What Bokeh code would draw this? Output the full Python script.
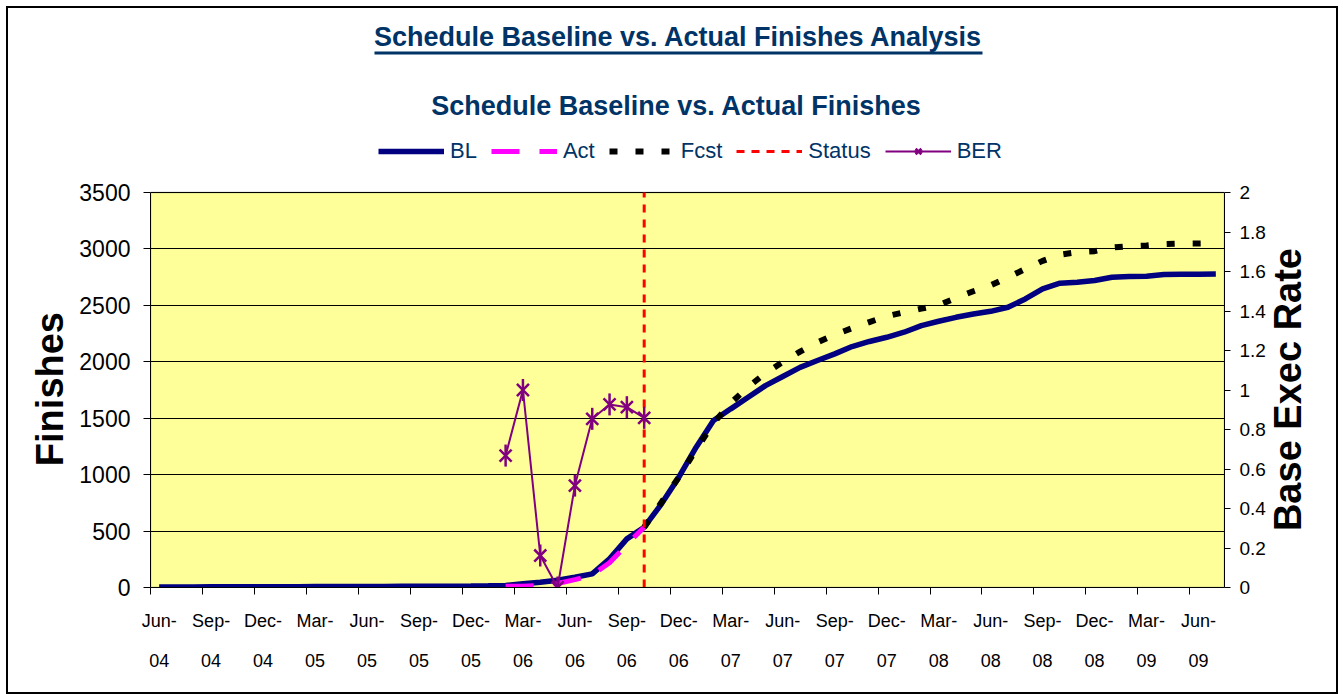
import math
from bokeh.plotting import figure
from bokeh.layouts import row
from bokeh.models import (Range1d, LinearAxis, FixedTicker, Legend, LegendItem,
                          Label, BoxAnnotation, PrintfTickFormatter, Div)
from bokeh.embed import file_html
from bokeh.resources import INLINE

nan = float("nan")

months = ["Jun-04", "Jul-04", "Aug-04", "Sep-04", "Oct-04", "Nov-04", "Dec-04",
          "Jan-05", "Feb-05", "Mar-05", "Apr-05", "May-05", "Jun-05", "Jul-05",
          "Aug-05", "Sep-05", "Oct-05", "Nov-05", "Dec-05",
          "Jan-06", "Feb-06", "Mar-06", "Apr-06", "May-06", "Jun-06", "Jul-06",
          "Aug-06", "Sep-06", "Oct-06", "Nov-06", "Dec-06",
          "Jan-07", "Feb-07", "Mar-07", "Apr-07", "May-07", "Jun-07", "Jul-07",
          "Aug-07", "Sep-07", "Oct-07", "Nov-07", "Dec-07",
          "Jan-08", "Feb-08", "Mar-08", "Apr-08", "May-08", "Jun-08", "Jul-08",
          "Aug-08", "Sep-08", "Oct-08", "Nov-08", "Dec-08",
          "Jan-09", "Feb-09", "Mar-09", "Apr-09", "May-09", "Jun-09", "Jul-09"]

bl = [5, 5, 5, 6, 6, 6, 7, 7, 7, 8, 8, 8, 9, 9, 10, 10, 11, 12, 13, 15,
      18, 33, 47, 65, 91, 121, 254, 431, 534, 741, 977, 1243, 1479, 1583,
      1686, 1789, 1870, 1951, 2011, 2070, 2135, 2180, 2217, 2262, 2320,
      2359, 2394, 2424, 2447, 2483, 2557, 2646, 2696, 2705, 2720, 2749,
      2755, 2758, 2773, 2776, 2776, 2778]

act = [nan] * 20 + [10, 12, 18, 35, 70, 110, 220, 380, 534] + [nan] * 33

fcst = [nan] * 28 + [534, 755, 977, 1224, 1456, 1635, 1777, 1899, 1998, 2090,
                     2172, 2240, 2298, 2352, 2404, 2438, 2471, 2502, 2566, 2625,
                     2678, 2748, 2822, 2894, 2949, 2971, 2980, 3012, 3024, 3030,
                     3044, 3048, 3048, 3050]

ber = [nan] * 20 + [0.668, 1.0, 0.162, 0.0, 0.516, 0.854, 0.927, 0.913, 0.859] + [nan] * 33

status_month = "Oct-06"

y_max = 3500
ber_max = 2.0
y_ticks = [0, 500, 1000, 1500, 2000, 2500, 3000, 3500]
ber_ticks = [0, 0.2, 0.4, 0.6, 0.8, 1.0, 1.2, 1.4, 1.6, 1.8, 2.0]
label_every = 3

x = list(range(len(months)))
x_ticks = x[::label_every][:21]
x_minor = [t - 0.5 for t in x_ticks]
x_labels = {t: months[t].replace("-", "-\n") for t in x_ticks}
status_x = [months.index(status_month)] * 2
status_y = [0, y_max]

# ---- layout (page pixels; the row starts at page (8, 8)) ----
ORG = 8
LEFT_W, RIGHT_W = 58, 66
H = 684
FIG_W = 1328 - LEFT_W - RIGHT_W
PLOT_L, PLOT_R, PLOT_T, PLOT_B = 150, 1224, 192, 587
fig_x0 = ORG + LEFT_W
frame_top = ORG
extend = (PLOT_B - frame_top) / (PLOT_B - PLOT_T)

FONT = "Liberation Sans"
NAVY_TXT = "#003366"

p = figure(width=FIG_W, height=H, output_backend="svg", toolbar_location=None,
           x_range=Range1d(-0.5, len(months) - 0.5),
           y_range=Range1d(0, y_max * extend),
           min_border_left=PLOT_L - fig_x0, min_border_right=fig_x0 + FIG_W - PLOT_R,
           min_border_top=0, min_border_bottom=ORG + H - PLOT_B)
p.background_fill_color = "white"
p.border_fill_color = "white"
p.outline_line_color = None
p.extra_y_ranges = {"ber": Range1d(0, ber_max * extend)}

p.add_layout(BoxAnnotation(bottom=0, top=y_max, fill_color="#FFFF99", fill_alpha=1,
                           line_color="#808080", line_width=2, level="image"))

ya = p.yaxis[0]
ya.bounds = (0, y_max)
ya.ticker = FixedTicker(ticks=y_ticks)
ya.major_label_text_font = FONT
ya.major_label_text_font_size = "23px"
ya.major_label_text_color = "black"
ya.major_tick_in = 0
ya.major_tick_out = 7
ya.major_label_standoff = 13
ya.minor_tick_line_color = None
ya.axis_line_color = "black"

xa = p.xaxis[0]
xa.ticker = FixedTicker(ticks=x_ticks, minor_ticks=x_minor)
xa.major_label_overrides = x_labels
xa.major_tick_line_color = None
xa.major_tick_in = 0
xa.major_tick_out = 0
xa.minor_tick_in = 0
xa.minor_tick_out = 7
xa.minor_tick_line_color = "black"
xa.major_label_standoff = 16
xa.major_label_text_font = FONT
xa.major_label_text_font_size = "18px"
xa.major_label_text_line_height = 2.0
xa.major_label_text_color = "black"
xa.axis_line_color = "black"

ra = LinearAxis(y_range_name="ber", ticker=FixedTicker(ticks=ber_ticks),
                formatter=PrintfTickFormatter(format="%g"), bounds=(0, ber_max))
ra.major_label_text_font = FONT
ra.major_label_text_font_size = "19px"
ra.major_label_text_color = "black"
ra.major_tick_in = 0
ra.major_tick_out = 6
ra.major_label_standoff = 9
ra.minor_tick_line_color = None
ra.axis_line_color = "black"
p.add_layout(ra, "right")

p.xgrid.grid_line_color = None
p.ygrid.grid_line_color = "black"
p.ygrid.grid_line_width = 1

r_bl = p.line(x, bl, line_color="#000080", line_width=5.5)
r_act = p.line(x, act, line_color="#FF00FF", line_width=5, line_dash="28 20")
r_fcst = p.line(x, fcst, line_color="black", line_width=6, line_dash="8 18")
r_status = p.line(status_x, status_y, line_color="#FF0000", line_width=3,
                  line_dash="8 7")
r_ber = p.line(x, ber, line_color="#800080", line_width=2, y_range_name="ber")
r_ber_x = p.scatter(x, ber, marker="x", size=17, line_color="#800080",
                    line_width=2.5, y_range_name="ber")
r_ber_v = p.scatter(x, ber, marker="dash", angle=math.pi / 2, size=22,
                    line_color="#800080", line_width=2.5, y_range_name="ber")

legend = Legend(items=[
    LegendItem(label="BL", renderers=[r_bl]),
    LegendItem(label="Act", renderers=[r_act]),
    LegendItem(label="Fcst", renderers=[r_fcst]),
    LegendItem(label="Status", renderers=[r_status]),
    LegendItem(label="BER", renderers=[r_ber, r_ber_x, r_ber_v]),
], orientation="horizontal", location=(228, 423))
legend.background_fill_alpha = 0
legend.border_line_color = None
legend.label_text_font = FONT
legend.label_text_font_size = "22px"
legend.label_text_color = NAVY_TXT
legend.glyph_width = 66
legend.glyph_height = 20
legend.label_standoff = 6
legend.spacing = 14
legend.padding = 4
legend.margin = 0
p.add_layout(legend, "center")

p.add_layout(Label(x=528, y=551, x_units="screen", y_units="screen",
                   text="Schedule Baseline vs. Actual Finishes Analysis",
                   text_font=FONT, text_font_style="bold", text_font_size="27px",
                   text_color=NAVY_TXT, text_align="center", text_baseline="middle"))
p.add_layout(BoxAnnotation(left=224, right=832, top=536, bottom=533,
                           left_units="screen", right_units="screen",
                           top_units="screen", bottom_units="screen",
                           fill_color=NAVY_TXT, fill_alpha=1, line_color=None))
p.add_layout(Label(x=526, y=482, x_units="screen", y_units="screen",
                   text="Schedule Baseline vs. Actual Finishes",
                   text_font=FONT, text_font_style="bold", text_font_size="27px",
                   text_color=NAVY_TXT, text_align="center", text_baseline="middle"))

# vertical axis titles (read bottom-to-top), centred on the plot box
center_y = (PLOT_T + PLOT_B) / 2 - ORG
pad_top = int(2 * center_y - H)


def side_title(text, width, pad_left):
    html = (
        f'<div style="box-sizing:border-box;width:{width}px;height:{H}px;'
        f'padding-top:{pad_top}px;padding-left:{pad_left}px;display:flex;align-items:center;">'
        f'<span style="writing-mode:vertical-rl;transform:rotate(180deg);'
        f"font-family:'Liberation Sans',sans-serif;font-weight:bold;font-size:38px;"
        f'line-height:36px;white-space:nowrap;color:black;">{text}</span></div>'
    )
    return Div(text=html, width=width, height=H, margin=0)


left_title = side_title("Finishes", LEFT_W, 50 - ORG - 18)
right_title = side_title("Base Exec Rate", RIGHT_W, 1288 - (ORG + LEFT_W + FIG_W) - 18)

layout = row(left_title, p, right_title, spacing=0)
layout.styles = {"margin": f"{ORG}px 0 0 {ORG}px", "box-shadow": "0 0 0 2px black"}

open("out.html", "w").write(file_html(layout, INLINE))
